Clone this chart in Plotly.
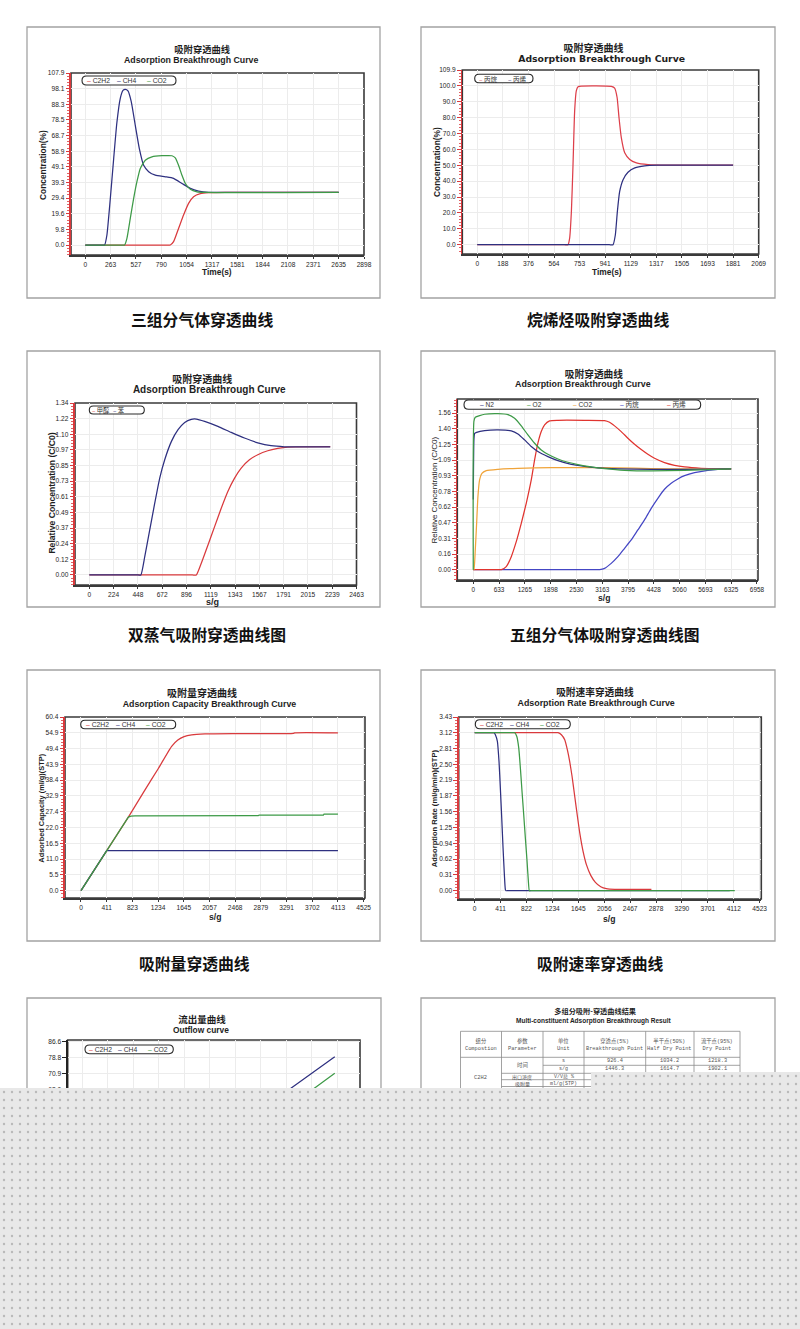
import numpy as np
import plotly.graph_objects as go

# ======================= DATA =======================
# Panel 1 : 三组分气体穿透曲线
P1_X_LABELS = ["0", "263", "527", "790", "1054", "1317", "1581", "1844", "2108", "2371", "2635", "2898"]
P1_Y_LABELS = ["0.0", "9.8", "19.6", "29.4", "39.3", "49.1", "58.9", "68.7", "78.5", "88.3", "98.1", "107.9"]
P1_NAMES = ["C2H2", "CH4", "CO2"]
P1_C2H2_X = [0, 860, 884, 918, 970, 1022, 1074, 1126, 1196, 1282, 1456, 2635]
P1_C2H2_Y = [0, 0, 0, 2.1, 10.4, 18.8, 26.1, 30.3, 32.2, 32.8, 33.0, 33.0]
P1_CH4_X = [0, 185, 201, 225, 260, 295, 329, 364, 392, 416, 444, 478, 520, 562, 607, 659, 728, 832, 918, 1005, 1092, 1178, 1282, 1456, 2635]
P1_CH4_Y = [0, 0, 0, 6.3, 29, 54, 77, 92, 97, 97.7, 96.7, 90, 75, 60.5, 50, 46, 43.8, 42.8, 41.8, 38.6, 35.5, 33.8, 33.0, 33.0, 33.0]
P1_CO2_X = [0, 390, 409, 433, 468, 503, 537, 572, 624, 693, 797, 901, 936, 970, 1005, 1040, 1092, 1161, 1248, 2635]
P1_CO2_Y = [0, 0, 0, 4.2, 16.7, 29.2, 39.7, 48, 53.2, 55.3, 56, 56, 54.7, 50, 43.8, 38.6, 35, 33.4, 33, 33]

# Panel 2 : 烷烯烃吸附穿透曲线
P2_X_LABELS = ["0", "188", "376", "564", "753", "941", "1129", "1317", "1505", "1693", "1881", "2069"]
P2_Y_LABELS = ["0.0", "10.0", "20.0", "30.0", "40.0", "50.0", "60.0", "70.0", "80.0", "90.0", "100.0", "109.9"]
P2_NAMES = ["丙烷", "丙烯"]
P2_C3H8_X = [0, 640, 667, 679, 692, 704, 716, 728, 741, 765, 986, 1010, 1028, 1042, 1059, 1084, 1121, 1170, 1256, 1403, 1881]
P2_C3H8_Y = [0, 0, 0, 4, 20.9, 50.4, 84.2, 96.8, 99.4, 99.8, 99.6, 98.5, 92.6, 80, 67.3, 57.8, 53.6, 51.5, 50.4, 50, 50]
P2_C3H6_X = [0, 970, 998, 1015, 1030, 1047, 1072, 1108, 1158, 1231, 1329, 1881]
P2_C3H6_Y = [0, 0, 0, 6.1, 20.9, 33.5, 40.9, 45.6, 48.3, 49.6, 50, 50]

# Panel 3 : 双蒸气吸附穿透曲线图
P3_X_LABELS = ["0", "224", "448", "672", "896", "1119", "1343", "1567", "1791", "2015", "2239", "2463"]
P3_Y_LABELS = ["0.00", "0.12", "0.24", "0.37", "0.49", "0.61", "0.73", "0.85", "0.97", "1.10", "1.22", "1.34"]
P3_NAMES = ["甲醇", "苯"]
P3_A_X = [0, 950, 986, 1032, 1094, 1155, 1216, 1277, 1339, 1400, 1476, 1553, 1645, 1737, 1829, 2221]
P3_A_Y = [0, 0, 0, 0.091, 0.234, 0.377, 0.52, 0.651, 0.755, 0.833, 0.898, 0.937, 0.968, 0.986, 0.997, 1.0]
P3_B_X = [0, 450, 475, 511, 557, 603, 649, 695, 757, 818, 879, 940, 986, 1063, 1185, 1308, 1430, 1553, 1675, 1798, 2221]
P3_B_Y = [0, 0, 0, 0.143, 0.351, 0.559, 0.755, 0.898, 1.041, 1.132, 1.189, 1.213, 1.215, 1.197, 1.158, 1.111, 1.067, 1.03, 1.007, 0.999, 0.999]

# Panel 4 : 五组分气体吸附穿透曲线图
P4_X_LABELS = ["0", "633", "1265", "1898", "2530", "3163", "3795", "4428", "5060", "5693", "6325", "6958"]
P4_Y_LABELS = ["0.00", "0.16", "0.31", "0.47", "0.62", "0.78", "0.93", "1.09", "1.25", "1.40", "1.56"]
P4_NAMES = ["N2", "O2", "CO2", "丙烷", "丙烯"]
P4_N2_X = [0, 16, 33, 82, 278, 605, 932, 1095, 1258, 1422, 1585, 1830, 2076, 2403, 2730, 3056, 3547, 4364, 5181, 6325]
P4_N2_Y = [0.70, 1.30, 1.36, 1.37, 1.387, 1.394, 1.384, 1.354, 1.294, 1.228, 1.178, 1.128, 1.088, 1.051, 1.031, 1.015, 1.005, 1.001, 1.001, 1.005]
P4_O2_X = [0, 16, 49, 278, 605, 850, 1013, 1177, 1340, 1504, 1667, 1830, 2076, 2321, 2566, 2893, 3220, 3710, 4364, 5181, 5998, 6325]
P4_O2_Y = [0, 1.48, 1.52, 1.55, 1.557, 1.547, 1.51, 1.434, 1.344, 1.261, 1.194, 1.151, 1.104, 1.071, 1.048, 1.025, 1.008, 0.991, 0.985, 0.991, 1.001, 1.005]
P4_CO2_X = [0, 16, 49, 82, 114, 155, 212, 319, 605, 1095, 1912, 2730, 3547, 4364, 5181, 6325]
P4_CO2_Y = [0, 0, 0.196, 0.462, 0.729, 0.895, 0.961, 0.988, 1.001, 1.011, 1.018, 1.018, 1.015, 1.008, 1.005, 1.005]
P4_C3H8_X = [0, 3000, 3097, 3220, 3383, 3547, 3710, 3874, 4037, 4200, 4364, 4527, 4690, 4854, 5017, 5181, 5426, 5753, 5998, 6325]
P4_C3H8_Y = [0, 0, 0, 0.013, 0.063, 0.13, 0.213, 0.296, 0.396, 0.496, 0.612, 0.712, 0.802, 0.862, 0.905, 0.938, 0.968, 0.991, 1.001, 1.005]
P4_C3H6_X = [0, 650, 690, 809, 932, 1054, 1177, 1299, 1422, 1504, 1585, 1667, 1749, 1871, 2076, 2730, 3220, 3342, 3465, 3628, 3792, 3955, 4119, 4282, 4445, 4690, 4936, 5181, 5589, 5998, 6325]
P4_C3H6_Y = [0, 0, 0, 0.03, 0.13, 0.279, 0.462, 0.662, 0.895, 1.094, 1.261, 1.377, 1.444, 1.484, 1.49, 1.49, 1.487, 1.47, 1.434, 1.377, 1.311, 1.251, 1.198, 1.151, 1.111, 1.068, 1.041, 1.025, 1.011, 1.005, 1.005]

# Panel 5 : 吸附量穿透曲线
P5_X_LABELS = ["0", "411", "823", "1234", "1645", "2057", "2468", "2879", "3291", "3702", "4113", "4525"]
P5_Y_LABELS = ["0.0", "5.5", "11.0", "16.5", "22.0", "27.4", "32.9", "38.4", "43.9", "49.4", "54.9", "60.4"]
P5_NAMES = ["C2H2", "CH4", "CO2"]
P5_C2H2_X = [0, 758, 1000, 1238, 1451, 1550, 1650, 1771, 1985, 2500, 3400, 3420, 4113]
P5_C2H2_Y = [0, 25.6, 34.2, 42.5, 50.2, 52.4, 53.6, 54.2, 54.5, 54.6, 54.7, 54.9, 54.9]
P5_CH4_X = [0, 411, 4113]
P5_CH4_Y = [0, 13.9, 13.9]
P5_CO2_X = [0, 758, 800, 864, 2838, 2850, 3880, 3890, 4113]
P5_CO2_Y = [0, 25.6, 25.95, 26.05, 26.1, 26.3, 26.3, 26.6, 26.6]

# Panel 6 : 吸附速率穿透曲线
P6_X_LABELS = ["0", "411", "822", "1234", "1645", "2056", "2467", "2878", "3290", "3701", "4112", "4523"]
P6_Y_LABELS = ["0.00", "0.31", "0.62", "0.94", "1.25", "1.56", "1.87", "2.19", "2.50", "2.81", "3.12", "3.43"]
P6_NAMES = ["C2H2", "CH4", "CO2"]
P6_C2H2_X = [0, 1290, 1323, 1376, 1429, 1471, 1508, 1545, 1588, 1630, 1672, 1720, 1773, 1842, 1916, 2000, 2090, 2223, 2805]
P6_C2H2_Y = [3.12, 3.12, 3.12, 3.08, 2.98, 2.78, 2.55, 2.26, 1.86, 1.47, 1.106, 0.777, 0.514, 0.303, 0.165, 0.079, 0.04, 0.026, 0.026]
P6_CH4_X = [0, 290, 307, 328, 360, 386, 407, 429, 450, 471, 487, 497, 530, 4048]
P6_CH4_Y = [3.12, 3.12, 3.12, 3.08, 2.95, 2.55, 2.03, 1.435, 0.843, 0.316, 0.02, 0, 0, 0]
P6_CO2_X = [0, 610, 635, 667, 699, 725, 751, 778, 804, 831, 852, 868, 900, 4128]
P6_CO2_Y = [3.12, 3.12, 3.12, 3.05, 2.82, 2.42, 1.96, 1.5, 1.04, 0.58, 0.184, 0, 0, 0]

# Panel 7 : 流出量曲线 (mostly hidden)
P7_X_LABELS = ["0", "411", "823", "1234", "1645", "2057", "2468", "2879", "3291", "3702", "4113", "4525"]
P7_Y_LABELS = ["0.0", "7.9", "15.8", "23.6", "31.5", "39.4", "47.3", "55.1", "63.0", "70.9", "78.8", "86.6"]
P7_NAMES = ["C2H2", "CH4", "CO2"]
P7_C2H2_X = [0, 1500, 4073]
P7_C2H2_Y = [0, 0, 57.0]
P7_CH4_X = [0, 420, 4073]
P7_CH4_Y = [0, 0, 79.3]
P7_CO2_X = [0, 850, 4073]
P7_CO2_Y = [0, 0, 71.2]

# Panel 8 : result table
TBL_HEAD_CN = ["组分", "参数", "单位", "穿透点(5%)", "半干点(50%)", "流干点(95%)"]
TBL_HEAD_EN = ["Compostion", "Parameter", "Unit", "Breakthrough Point", "Half Dry Point", "Dry Point"]
TBL_COMPONENT = "C2H2"
TBL_PARAMS = ["时间", "出口浓度", "吸附量"]
TBL_UNITS = ["s", "s/g", "V/V总 %", "ml/g(STP)"]
TBL_VALUES = [["926.4", "1034.2", "1218.3"], ["1446.3", "1614.7", "1902.1"]]

CAPTIONS = ["三组分气体穿透曲线", "烷烯烃吸附穿透曲线", "双蒸气吸附穿透曲线图",
            "五组分气体吸附穿透曲线图", "吸附量穿透曲线", "吸附速率穿透曲线"]

# ======================= STYLE / LAYOUT =======================
W, H = 800, 1329


def PX(x):
    return x / W


def PY(y):
    return 1.0 - y / H


RED = "#d93a3d"
NAVY = "#2e3080"
GREEN = "#3d9a47"
ORANGE = "#f0a43a"
BLUE = "#4446c4"
DARK = "#3a3a3a"
TXT = "#1e1e1e"
SANS = "Liberation Sans, Arial, Helvetica, sans-serif"
NARROW = "Liberation Sans Narrow, Arial Narrow, Liberation Sans, sans-serif"
DEJA = "DejaVu Sans, Liberation Sans, sans-serif"
CJK = "Noto Sans CJK SC, Noto Sans, sans-serif"
MONO = "Liberation Mono, DejaVu Sans Mono, Noto Sans CJK SC, monospace"

fig = go.Figure()
shapes, annotations, axes = [], [], {}


def sfx(k):
    return "" if k == 1 else str(k)


def text(x, y, s, size, family=SANS, color=TXT, weight="normal", angle=0, xanchor="center"):
    annotations.append(dict(x=PX(x), y=PY(y), xref="paper", yref="paper", text=s, showarrow=False,
                            xanchor=xanchor, yanchor="middle", textangle=angle, borderpad=0,
                            font=dict(family=family, size=size, color=color, weight=weight)))


def title2(x_cn, y_cn, cn, cn_size, x_en, y_en, en, en_size, en_family="Liberation Sans", nbw=0.278):
    """Two-line (Chinese + English) chart title as one text block."""
    d = x_en - x_cn
    k = int(round(2 * abs(d) / (nbw * en_size)))
    pad = "\u00a0" * k
    en_txt = (en + pad) if d < 0 else (pad + en)
    t = ('<span style="font-family:Noto Sans CJK SC;font-size:%.1fpx">%s</span><br>'
         '<span style="font-family:%s;font-size:%.1fpx">%s</span>') % (cn_size, cn, en_family, en_size, en_txt)
    annotations.append(dict(x=PX(x_cn), y=PY((y_cn + y_en) / 2 - 0.3), xref="paper", yref="paper", text=t,
                            showarrow=False, xanchor="center", yanchor="middle", align="center", borderpad=0,
                            font=dict(family=SANS, size=(y_en - y_cn) / 1.3, color=TXT, weight="bold")))


def box(x0, x1, y0, y1):
    shapes.append(dict(type="rect", xref="paper", yref="paper", x0=PX(x0), x1=PX(x1), y0=PY(y1), y1=PY(y0),
                       line=dict(color="#a3a3a3", width=1.3), fillcolor="rgba(0,0,0,0)", layer="below"))


def panel(k, plot, xr, yr, xlabels, xmax, ylabels, ymax, axis_color=RED, tfam=SANS, tsize=6.6, minor=True):
    x0, x1, y0, y1 = plot
    s = sfx(k)
    tf = dict(family=tfam, size=tsize, color=TXT)
    axes["xaxis" + s] = dict(domain=[PX(x0), PX(x1)], range=xr, anchor="y" + s, tickmode="array",
                             tickvals=list(np.linspace(0, xmax, len(xlabels))), ticktext=xlabels,
                             showgrid=True, gridcolor="#ececec", gridwidth=1, zeroline=False,
                             showline=True, linecolor=DARK, linewidth=1.5, ticks="outside", ticklen=2.5,
                             tickcolor=DARK, tickwidth=1, tickfont=tf, fixedrange=True, automargin=False)
    ystep = ymax / (len(ylabels) - 1)
    ya = dict(domain=[PY(y1), PY(y0)], range=yr, anchor="x" + s, tickmode="array",
              tickvals=list(np.linspace(0, ymax, len(ylabels))), ticktext=ylabels,
              showgrid=True, gridcolor="#ececec", gridwidth=1, zeroline=False,
              showline=True, linecolor=axis_color, linewidth=1.8, ticks="outside", ticklen=3.5,
              tickcolor=axis_color, tickwidth=1, tickfont=tf, fixedrange=True, automargin=False)
    if minor:
        ya["minor"] = dict(tickmode="linear", tick0=0, dtick=ystep / 5, ticks="outside", ticklen=2,
                           tickcolor=axis_color, tickwidth=0.8, showgrid=False)
    axes["yaxis" + s] = ya
    shapes.append(dict(type="rect", xref="x%s domain" % s, yref="y%s domain" % s, x0=0, x1=1, y0=0, y1=1,
                       line=dict(color=DARK, width=1.6), fillcolor="rgba(0,0,0,0)", layer="below"))


def line(k, x, y, color, width=1.25, shape="spline"):
    s = sfx(k)
    kw = dict(color=color, width=width, shape=shape)
    if shape == "spline":
        kw["smoothing"] = 0.5
    fig.add_trace(go.Scatter(x=x, y=y, mode="lines", line=kw, xaxis="x" + s, yaxis="y" + s,
                             showlegend=False, hoverinfo="skip"))


def pill(x0, y0, x1, y1):
    r = (y1 - y0) / 2.0
    P = lambda x, y: "%.5f,%.5f" % (PX(x), PY(y))
    return ("M " + P(x0 + r, y0) + " L " + P(x1 - r, y0) + " Q " + P(x1, y0) + " " + P(x1, y0 + r) +
            " Q " + P(x1, y1) + " " + P(x1 - r, y1) + " L " + P(x0 + r, y1) + " Q " + P(x0, y1) + " " +
            P(x0, y0 + r) + " Q " + P(x0, y0) + " " + P(x0 + r, y0) + " Z")


def legend(bx, names, colors, x_start, step, size=6.8, family=SANS):
    x0, y0, x1, y1 = bx
    shapes.append(dict(type="path", path=pill(x0, y0, x1, y1), xref="paper", yref="paper",
                       line=dict(color="#2a2a2a", width=1.1), fillcolor="white", layer="above"))
    for i, (n, c) in enumerate(zip(names, colors)):
        text(x_start + i * step, (y0 + y1) / 2 + 0.3, "<span style='color:%s'>–</span> %s" % (c, n), size,
             family=family, color="#333333", xanchor="left")


# ---------- Panel 1 ----------
box(27, 380, 27, 298)
panel(1, (71, 364, 73, 255), [-148.5, 2898], [-6.26, 107.9], P1_X_LABELS, 2898, P1_Y_LABELS, 107.9)
line(1, P1_C2H2_X, P1_C2H2_Y, RED)
line(1, P1_CH4_X, P1_CH4_Y, NAVY)
line(1, P1_CO2_X, P1_CO2_Y, GREEN)
legend((82, 76, 176, 85), P1_NAMES, [RED, NAVY, GREEN], 86, 30)
title2(202, 49, "吸附穿透曲线", 9.3, 191, 58.7, "Adsorption Breakthrough Curve", 8.8)
text(43, 165, "Concentration(%)", 8.4, SANS, weight="bold", angle=-90)
text(216.7, 272, "Time(s)", 8.4, SANS, weight="bold")

# ---------- Panel 2 ----------
box(421, 775, 27, 298)
panel(2, (462.3, 758.7, 70, 254), [-110, 2069], [-5.85, 109.9], P2_X_LABELS, 2069, P2_Y_LABELS, 109.9)
line(2, P2_C3H8_X, P2_C3H8_Y, "#dd3f4a")
line(2, P2_C3H6_X, P2_C3H6_Y, NAVY)
legend((474.7, 74.3, 533, 82.7), P2_NAMES, ["#dd3f4a", NAVY], 477.5, 29.5, size=6.5, family=CJK)
title2(593.7, 47.6, "吸附穿透曲线", 10.0, 600.7, 57.4, "Adsorption Breakthrough Curve", 9.3,
       en_family="DejaVu Sans", nbw=0.318)
text(436.3, 161.7, "Concentration(%)", 8.4, SANS, weight="bold", angle=-90)
text(607, 271.7, "Time(s)", 8.4, SANS, weight="bold")

# ---------- Panel 3 ----------
box(27, 380, 351, 607)
panel(3, (75, 356.5, 403, 585), [-132, 2463], [-0.078, 1.34], P3_X_LABELS, 2463, P3_Y_LABELS, 1.34,
      tfam=NARROW, tsize=6.6)
line(3, P3_A_X, P3_A_Y, RED)
line(3, P3_B_X, P3_B_Y, NAVY)
legend((89.3, 406, 144.3, 414), P3_NAMES, [RED, NAVY], 91, 20.6, size=6.3, family=CJK)
title2(202.3, 378.6, "吸附穿透曲线", 10.0, 209, 388.6, "Adsorption Breakthrough Curve", 10.0)
text(52.3, 493.3, "Relative Concentration (C/C0)", 8.6, NARROW, weight="bold", angle=-90)
text(212.3, 601.5, "s/g", 9, SANS, weight="bold")

# ---------- Panel 4 ----------
box(421, 775, 351, 607)
panel(4, (457.3, 758, 399, 580), [-392, 6983], [-0.103, 1.702], P4_X_LABELS, 6958, P4_Y_LABELS, 1.56,
      tsize=6.4)
line(4, P4_C3H8_X, P4_C3H8_Y, BLUE)
line(4, P4_C3H6_X, P4_C3H6_Y, "#e0342f")
line(4, P4_CO2_X, P4_CO2_Y, ORANGE)
line(4, P4_N2_X, P4_N2_Y, NAVY)
line(4, P4_O2_X, P4_O2_Y, GREEN)
legend((464, 400, 700.7, 409.3), P4_NAMES, [NAVY, GREEN, ORANGE, BLUE, "#e0342f"], 479, 46.65, size=6.6,
       family=SANS + ", Noto Sans CJK SC")
title2(593.7, 374, "吸附穿透曲线", 9.7, 583, 383.3, "Adsorption Breakthrough Curve", 8.9)
text(433.5, 490, "Relative Concentration (C/C0)", 8, SANS, angle=-90)
text(603.7, 598.3, "s/g", 8.6, SANS, weight="bold")

# ---------- Panel 5 ----------
box(27, 380, 670, 941)
panel(5, (65, 365, 717, 898), [-256, 4546], [-2.54, 60.4], P5_X_LABELS, 4525, P5_Y_LABELS, 60.4)
line(5, P5_C2H2_X, P5_C2H2_Y, RED)
line(5, P5_CH4_X, P5_CH4_Y, NAVY, shape="linear")
line(5, P5_CO2_X, P5_CO2_Y, GREEN, shape="linear")
legend((80.7, 720.3, 175.7, 728.7), P5_NAMES, [RED, NAVY, GREEN], 84.5, 30)
title2(201.7, 692, "吸附量穿透曲线", 10, 209, 702, "Adsorption Capacity Breakthrough Curve", 8.8)
text(41.7, 808, "Adsorbed Capacity (ml/g)(STP)", 7.4, SANS, weight="bold", angle=-90)
text(215, 917.3, "s/g", 8.6, SANS, weight="bold")

# ---------- Panel 6 ----------
box(421, 775, 670, 941)
panel(6, (458.7, 761.3, 717, 899), [-254, 4549], [-0.164, 3.43], P6_X_LABELS, 4523, P6_Y_LABELS, 3.43)
line(6, P6_C2H2_X, P6_C2H2_Y, RED)
line(6, P6_CH4_X, P6_CH4_Y, NAVY)
line(6, P6_CO2_X, P6_CO2_Y, GREEN)
legend((475.3, 719.7, 570.3, 728.7), P6_NAMES, [RED, NAVY, GREEN], 479, 30)
title2(594.7, 692, "吸附速率穿透曲线", 9.7, 596.3, 702, "Adsorption Rate Breakthrough Curve", 8.9)
text(435.3, 808, "Adsorption Rate (ml/g/min)(STP)", 7.6, SANS, weight="bold", angle=-90)
text(608.7, 918.7, "s/g", 8.6, SANS, weight="bold")

# ---------- Panel 7 ----------
box(27, 381, 998, 1340)
panel(7, (67.7, 360, 1040, 1228), [-235, 4480], [-4.1, 87.4], P7_X_LABELS, 4525, P7_Y_LABELS, 86.63,
      axis_color="#222222", minor=False)
line(7, P7_C2H2_X, P7_C2H2_Y, RED, shape="linear")
line(7, P7_CH4_X, P7_CH4_Y, NAVY, shape="linear")
line(7, P7_CO2_X, P7_CO2_Y, GREEN, shape="linear")
legend((85, 1045, 173.3, 1053.7), P7_NAMES, [RED, NAVY, GREEN], 87.5, 29.5)
title2(201.7, 1018.3, "流出量曲线", 9.5, 200, 1028.3, "Outflow curve", 8.4)

# ---------- Panel 8 (table) ----------
box(421, 775, 998, 1340)
title2(594.7, 1011.7, "多组分吸附-穿透曲线结果", 7.2, 593, 1020.7,
       "Multi-constituent Adsorption Breakthrough Result", 6.5)
COLS = [460.5, 501.5, 543, 584, 645.7, 694, 740]
HEAD_TOP, HEAD_BOT = 1031.3, 1057.3
BODY = [1057.3, 1065.3, 1073.3, 1079.7, 1086.5]   # body row edges
TL = dict(color="#8a8a8a", width=0.8)


def hline(y, xa, xb):
    shapes.append(dict(type="line", xref="paper", yref="paper", x0=PX(xa), x1=PX(xb), y0=PY(y), y1=PY(y),
                       line=TL, layer="below"))


for c in COLS:
    shapes.append(dict(type="line", xref="paper", yref="paper", x0=PX(c), x1=PX(c), y0=PY(HEAD_TOP), y1=PY(1300),
                       line=TL, layer="below"))
hline(HEAD_TOP, COLS[0], COLS[-1])
hline(HEAD_BOT, COLS[0], COLS[-1])
hline(BODY[1], COLS[2], COLS[-1])
hline(BODY[2], COLS[1], COLS[-1])
hline(BODY[3], COLS[1], COLS[-1])
hline(BODY[4], COLS[1], COLS[-1])

TC = "#555555"
cen = [(COLS[i] + COLS[i + 1]) / 2 for i in range(len(COLS) - 1)]
for i in range(6):
    annotations.append(dict(x=PX(cen[i]), y=PY((HEAD_TOP + HEAD_BOT) / 2), xref="paper", yref="paper",
                            text=TBL_HEAD_CN[i] + "<br>" + TBL_HEAD_EN[i], showarrow=False, align="center",
                            xanchor="center", yanchor="middle", borderpad=0,
                            font=dict(family=MONO, size=5.3, color=TC)))
rmid = [(BODY[i] + BODY[i + 1]) / 2 for i in range(len(BODY) - 1)]
text(cen[0], 1078, TBL_COMPONENT, 5.4, MONO, color=TC)
text(cen[1], (BODY[0] + BODY[2]) / 2, TBL_PARAMS[0], 5.4, CJK, color=TC)
text(cen[1], rmid[2], TBL_PARAMS[1], 5.0, CJK, color=TC)
text(cen[1], rmid[3] + 0.6, TBL_PARAMS[2], 5.0, CJK, color=TC)
for r in range(4):
    text(cen[2], rmid[r] + (0.6 if r == 3 else 0), TBL_UNITS[r], 5.0, MONO, color=TC)
for r in range(2):
    for j in range(3):
        text(cen[3 + j], rmid[r], TBL_VALUES[r][j], 5.3, MONO, color=TC)

# ---------- Captions ----------
CAP_POS = [(201.5, 320), (597.5, 320), (206.5, 634), (604.5, 634), (194, 963), (600, 963)]
for (cx, cy), cap in zip(CAP_POS, CAPTIONS):
    text(cx, cy, cap, 15.8, CJK, color="#111111", weight="bold")

# ---------- Dotted cover (full-figure pixel axes) ----------
OVERLAY_X = [-5, 591, 591, 810, 810, -5, -5]
OVERLAY_Y = [1088, 1088, 1072, 1072, 1340, 1340, 1088]
fig.add_trace(go.Scatter(x=OVERLAY_X, y=OVERLAY_Y, mode="lines", fill="toself", fillcolor="#e8e8e8",
                         fillpattern=dict(shape=".", bgcolor="#e8e8e8", fgcolor="#b9b9b9", size=8,
                                          solidity=0.07, fillmode="replace"),
                         line=dict(width=0, color="rgba(0,0,0,0)"), xaxis="x8", yaxis="y8",
                         showlegend=False, hoverinfo="skip"))
axes["xaxis8"] = dict(domain=[0, 1], range=[0, W], visible=False, fixedrange=True, anchor="y8")
axes["yaxis8"] = dict(domain=[0, 1], range=[H, 0], visible=False, fixedrange=True, anchor="x8")

fig.update_layout(width=W, height=H, autosize=False, margin=dict(l=0, r=0, t=0, b=0, pad=0),
                  paper_bgcolor="white", plot_bgcolor="rgba(0,0,0,0)", showlegend=False,
                  shapes=shapes, annotations=annotations, **axes)

fig.write_html("out.html", config={"displayModeBar": False, "staticPlot": True},
               post_script="document.body.style.margin='0px';")
